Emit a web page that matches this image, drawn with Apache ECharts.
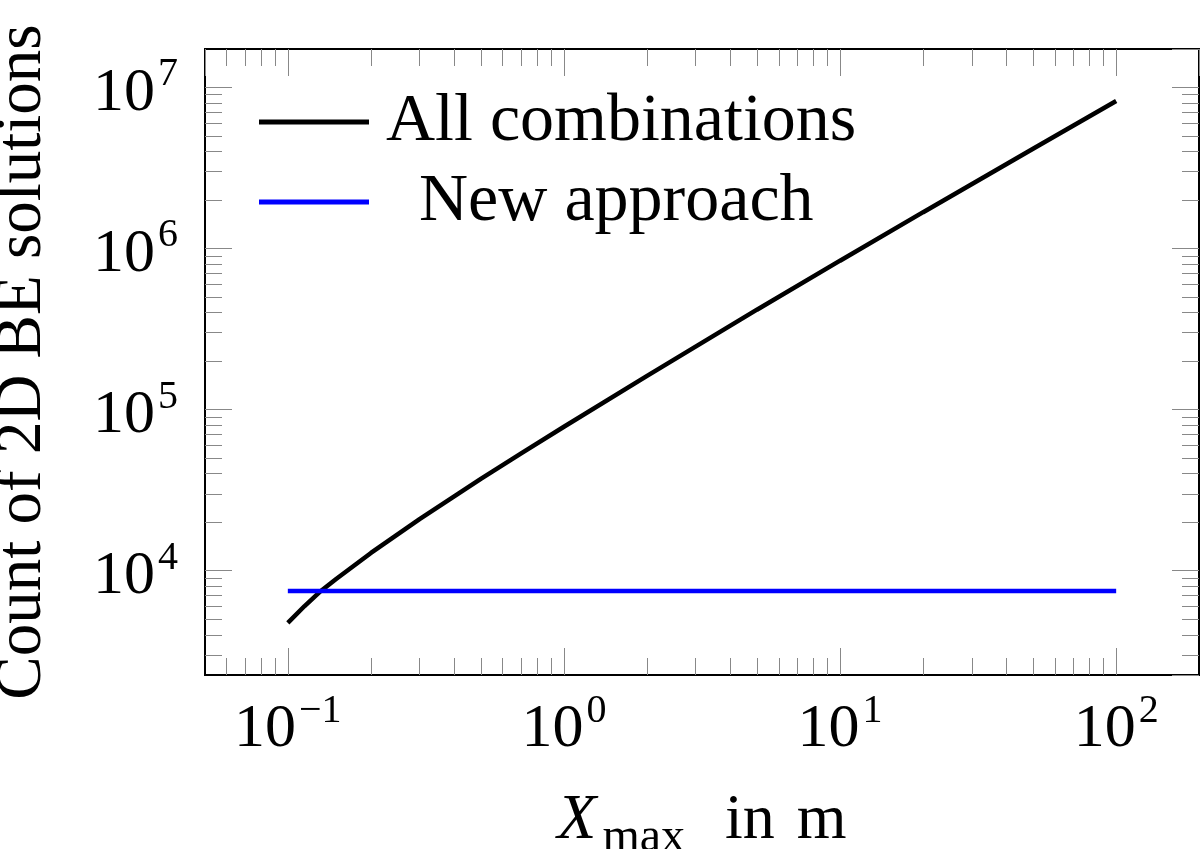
<!DOCTYPE html>
<html>
<head>
<meta charset="utf-8">
<script src="https://cdn.jsdelivr.net/npm/echarts@6/dist/echarts.min.js"></script>
<style>
  html, body { margin: 0; padding: 0; background: #fff; }
  #chart { width: 1200px; height: 849px; }
</style>
</head>
<body>
<div id="chart"></div>
<script>
// values
const xmax = [0.1, 0.115, 0.13, 0.15, 0.2, 0.3, 0.5, 0.7, 1, 2, 5, 10, 20, 50, 100];
const allCombinations = [4750, 6040, 7350, 8910, 12900, 20900, 37200, 53500, 78300, 162000, 417000, 840000, 1680000, 4160000, 8220000];
const newApproachX = [0.1, 100];
const newApproach = [7500, 7500];

// axis limits as decade exponents, and where the log minor ticks go
const xExtent = [-1.3, 2.3];
const yExtent = [3.353, 7.238];
const xDecades = [-2, -1, 0, 1, 2];
const yDecades = [3, 4, 5, 6, 7];
const minorSteps = [2, 3, 4, 5, 6, 7, 8, 9];

const serif = "'Liberation Serif', 'Times New Roman', serif";
const tickColor = '#888';

function minorTicks(decades, ext) {
  const out = [];
  decades.forEach(d => minorSteps.forEach(k => {
    const v = d + Math.log10(k);
    if (v > ext[0] && v < ext[1]) out.push(v);
  }));
  return out;
}

// 10^n labels, empty for the non-decade edge ticks
function powLabel(value) {
  const e = Math.log10(value);
  const r = Math.round(e);
  if (Math.abs(e - r) > 1e-6) return '';
  return '{b|10}{s|' + String(r).replace('-', '\u2212') + '}';
}

const tickRich = {
  b: { fontFamily: serif, fontSize: 62, lineHeight: 62, height: 50, verticalAlign: 'bottom', color: '#000' },
  s: { fontFamily: serif, fontSize: 40, lineHeight: 62, height: 37, verticalAlign: 'top', color: '#000', padding: [0, 0, 0, 3] }
};

function majorAxis(pos, ext, withLabels, extra) {
  return Object.assign({
    type: 'log',
    position: pos,
    min: Math.pow(10, ext[0]),
    max: Math.pow(10, ext[1]),
    axisLine: { show: false, onZero: false },
    axisTick: { show: true, inside: true, length: 27, lineStyle: { color: tickColor, width: 1 } },
    minorTick: { show: false },
    splitLine: { show: false },
    axisLabel: withLabels
      ? { show: true, formatter: powLabel, rich: tickRich, showMinLabel: false, showMaxLabel: false }
      : { show: false }
  }, extra || {});
}

function minorAxis(pos, ext, decades) {
  return {
    type: 'value',
    position: pos,
    min: ext[0],
    max: ext[1],
    axisLine: { show: false, onZero: false },
    axisTick: {
      show: true, inside: true, length: 17,
      customValues: minorTicks(decades, ext),
      lineStyle: { color: tickColor, width: 1 }
    },
    splitLine: { show: false },
    axisLabel: { show: false }
  };
}

const chart = echarts.init(document.getElementById('chart'));

chart.setOption({
  animation: false,
  backgroundColor: '#fff',
  grid: {
    left: 205, right: 1, top: 49, bottom: 174,
    outerBoundsMode: 'none',
    containLabel: false,
    show: true, borderColor: '#000', borderWidth: 2, backgroundColor: 'transparent'
  },
  legend: [
    {
      data: ['All combinations'],
      left: 259, top: 88, padding: 0,
      icon: 'rect', itemWidth: 110, itemHeight: 5,
      selectedMode: false,
      textStyle: { fontFamily: serif, fontSize: 68, lineHeight: 68, color: '#000', padding: [0, 0, 0, 12] }
    },
    {
      data: ['New approach'],
      left: 259, top: 168, padding: 0,
      icon: 'rect', itemWidth: 110, itemHeight: 5,
      selectedMode: false,
      textStyle: { fontFamily: serif, fontSize: 68, lineHeight: 68, color: '#000', padding: [0, 0, 0, 45] }
    }
  ],
  xAxis: [
    majorAxis('bottom', xExtent, true, {
      name: '{x|X}{sub|max}{n|in}{n2|m}',
      nameLocation: 'middle',
      nameGap: 114,
      nameTextStyle: {
        rich: {
          x: { fontFamily: serif, fontStyle: 'italic', fontSize: 64, lineHeight: 64, color: '#000' },
          sub: { fontFamily: serif, fontSize: 48, lineHeight: 64, height: 30, verticalAlign: 'bottom', color: '#000', padding: [0, 0, 0, 6] },
          n: { fontFamily: serif, fontSize: 64, lineHeight: 64, color: '#000', padding: [0, 0, 0, 40] },
          n2: { fontFamily: serif, fontSize: 64, lineHeight: 64, color: '#000', padding: [0, 0, 0, 22] }
        }
      },
      axisLabel: { show: true, formatter: powLabel, rich: tickRich, margin: 18, showMinLabel: false, showMaxLabel: false }
    }),
    majorAxis('top', xExtent, false),
    minorAxis('bottom', xExtent, xDecades),
    minorAxis('top', xExtent, xDecades)
  ],
  yAxis: [
    majorAxis('left', yExtent, true, {
      name: 'Count of 2D BE solutions',
      nameLocation: 'middle',
      nameRotate: 90,
      nameGap: 150,
      nameTextStyle: { fontFamily: serif, fontSize: 65, color: '#000' },
      axisLabel: { show: true, formatter: powLabel, rich: tickRich, margin: 27, showMinLabel: false, showMaxLabel: false }
    }),
    majorAxis('right', yExtent, false),
    minorAxis('left', yExtent, yDecades),
    minorAxis('right', yExtent, yDecades)
  ],
  series: [
    {
      name: 'All combinations',
      type: 'line',
      xAxisIndex: 0, yAxisIndex: 0,
      data: xmax.map((x, i) => [x, allCombinations[i]]),
      symbol: 'none',
      itemStyle: { color: '#000' },
      lineStyle: { color: '#000', width: 4.5 }
    },
    {
      name: 'New approach',
      type: 'line',
      xAxisIndex: 0, yAxisIndex: 0,
      data: newApproachX.map((x, i) => [x, newApproach[i]]),
      symbol: 'none',
      itemStyle: { color: '#0000ff' },
      lineStyle: { color: '#0000ff', width: 4.5 }
    }
  ]
});
</script>
</body>
</html>
